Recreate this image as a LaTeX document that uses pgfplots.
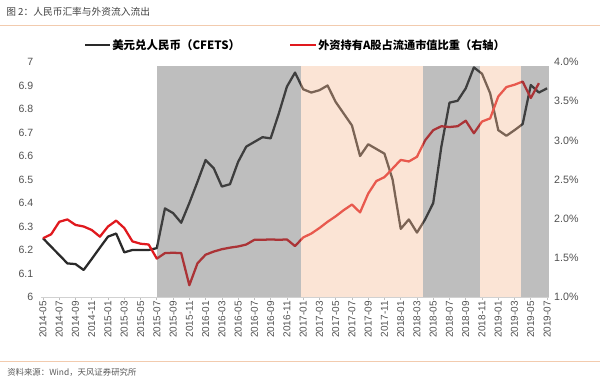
\documentclass[border=0pt]{standalone}
\usepackage{fontspec}
\setmainfont{Liberation Sans}
\newfontfamily\cjk{Noto Sans CJK SC}
\usepackage{pgfplots}
\usepackage{pgfplotstable}
\pgfplotsset{compat=1.18}
\definecolor{lblack}{HTML}{2A2A2A}
\definecolor{lred}{HTML}{E0191E}
\definecolor{shgray}{RGB}{92,92,92}
\definecolor{shpeach}{RGB}{245,187,150}
\definecolor{ticklab}{HTML}{505050}
\definecolor{rulec}{HTML}{F2CBAE}

\pgfplotstableread{
idx usd
0 6.25
1 6.214
2 6.179
3 6.143
4 6.14
5 6.115
6 6.162
7 6.21
8 6.257
9 6.27
10 6.19
11 6.20
12 6.20
13 6.20
14 6.208
15 6.377
16 6.357
17 6.316
18 6.40
19 6.49
20 6.583
21 6.548
22 6.47
23 6.48
24 6.575
25 6.64
26 6.66
27 6.68
28 6.675
29 6.78
30 6.895
31 6.955
32 6.884
33 6.87
34 6.88
35 6.90
36 6.83
37 6.78
38 6.73
39 6.60
40 6.65
41 6.63
42 6.61
43 6.50
44 6.29
45 6.33
46 6.274
47 6.33
48 6.40
49 6.64
50 6.827
51 6.835
52 6.888
53 6.977
54 6.95
55 6.867
56 6.71
57 6.686
58 6.71
59 6.736
60 6.902
61 6.87
62 6.888
}\usdtab

\pgfplotstableread{
idx share
0 1.75
1 1.80
2 1.96
3 1.99
4 1.92
5 1.90
6 1.855
7 1.77
8 1.90
9 1.975
10 1.88
11 1.71
12 1.68
13 1.67
14 1.49
15 1.56
16 1.565
17 1.56
18 1.15
19 1.43
20 1.54
21 1.58
22 1.61
23 1.63
24 1.645
25 1.67
26 1.73
27 1.73
28 1.735
29 1.73
30 1.735
31 1.65
32 1.76
33 1.81
34 1.88
35 1.96
36 2.03
37 2.11
38 2.18
39 2.08
40 2.32
41 2.48
42 2.53
43 2.64
44 2.75
45 2.73
46 2.79
47 3.00
48 3.13
49 3.18
50 3.17
51 3.18
52 3.25
53 3.09
54 3.24
55 3.28
56 3.56
57 3.68
58 3.71
59 3.75
60 3.54
61 3.73
}\sharetab

\begin{document}
\begin{tikzpicture}
\useasboundingbox (0,0) rectangle (450pt,286.5pt);
% title and rules
\node[anchor=west, inner sep=0pt, text=black!75] at (4.5pt,277.5pt) {\cjk\fontsize{7.3pt}{8pt}\selectfont 图 2：人民币汇率与外资流入流出};
\draw[rulec, line width=0.6pt] (0pt,267.75pt) -- (450pt,267.75pt);
\draw[rulec, line width=0.6pt] (0pt,15.75pt) -- (450pt,15.75pt);
\node[anchor=west, inner sep=0pt, text=black!65] at (5.25pt,7.5pt) {\cjk\fontsize{6.3pt}{7pt}\selectfont 资料来源：Wind，天风证券研究所};
% legend
\draw[lblack, line width=1.6pt] (63.75pt,252.75pt) -- (82.5pt,252.75pt);
\node[anchor=west, inner sep=0pt] at (84pt,252.75pt) {\cjk\bfseries\fontsize{8.6pt}{10pt}\selectfont 美元兑人民币（CFETS）};
\draw[lred, line width=1.6pt] (217.5pt,252.75pt) -- (237pt,252.75pt);
\node[anchor=west, inner sep=0pt] at (238.5pt,252.75pt) {\cjk\bfseries\fontsize{8.4pt}{10pt}\selectfont 外资持有A股占流通市值比重（右轴）};

\begin{axis}[
  at={(30.42pt,63.75pt)}, anchor=south west,
  width=381.7pt, height=176.25pt, scale only axis,
  xmin=-0.3, xmax=62.3, ymin=6, ymax=7,
  axis x line*=bottom, axis y line*=left,
  y axis line style={draw=none},
  x axis line style={draw=black!18, line width=0.6pt, -},
  xtick={0,2,...,62},
  xticklabels={2014-05,2014-07,2014-09,2014-11,2015-01,2015-03,2015-05,2015-07,2015-09,2015-11,2016-01,2016-03,2016-05,2016-07,2016-09,2016-11,2017-01,2017-03,2017-05,2017-07,2017-09,2017-11,2018-01,2018-03,2018-05,2018-07,2018-09,2018-11,2019-01,2019-03,2019-05,2019-07},
  xtick style={draw=black!25, line width=0.5pt},
  tick align=outside, major tick length=2pt,
  xticklabel style={rotate=90, anchor=east, inner sep=1pt, text=ticklab, font=\fontsize{7.5pt}{8pt}\selectfont},
  ytick={6,6.1,6.2,6.3,6.4,6.5,6.6,6.7,6.8,6.9,7},
  ytick style={draw=none},
  yticklabel style={text=ticklab, font=\fontsize{7.9pt}{9pt}\selectfont, /pgf/number format/fixed, /pgf/number format/precision=1},
  /pgf/number format/assume math mode=true,
  clip=false,
]
\addplot[lblack, line width=1.7pt, line join=round] table[x=idx, y=usd] {\usdtab};
\end{axis}

\begin{axis}[
  at={(30.42pt,63.75pt)}, anchor=south west,
  width=381.7pt, height=176.25pt, scale only axis,
  xmin=-0.3, xmax=62.3, ymin=1, ymax=4,
  axis x line=none, axis y line*=right,
  y axis line style={draw=none},
  ytick={1,1.5,2,2.5,3,3.5,4},
  ytick style={draw=none},
  yticklabel={\pgfmathprintnumber[fixed,fixed zerofill,precision=1]{\tick}\%},
  yticklabel style={text=ticklab, font=\fontsize{8pt}{9pt}\selectfont},
  /pgf/number format/assume math mode=true,
]
\addplot[lred, line width=1.7pt, line join=round] table[x=idx, y=share] {\sharetab};
\addplot[draw=none, fill=shgray, fill opacity=0.4, forget plot] coordinates {(14,1) (31.7,1) (31.7,3.953) (14,3.953)} -- cycle;
\addplot[draw=none, fill=shpeach, fill opacity=0.4, forget plot] coordinates {(31.7,1) (46.8,1) (46.8,3.953) (31.7,3.953)} -- cycle;
\addplot[draw=none, fill=shgray, fill opacity=0.4, forget plot] coordinates {(46.8,1) (53.75,1) (53.75,3.953) (46.8,3.953)} -- cycle;
\addplot[draw=none, fill=shpeach, fill opacity=0.4, forget plot] coordinates {(53.75,1) (58.8,1) (58.8,3.953) (53.75,3.953)} -- cycle;
\addplot[draw=none, fill=shgray, fill opacity=0.4, forget plot] coordinates {(58.8,1) (62.2,1) (62.2,3.953) (58.8,3.953)} -- cycle;
\end{axis}
\end{tikzpicture}
\end{document}
